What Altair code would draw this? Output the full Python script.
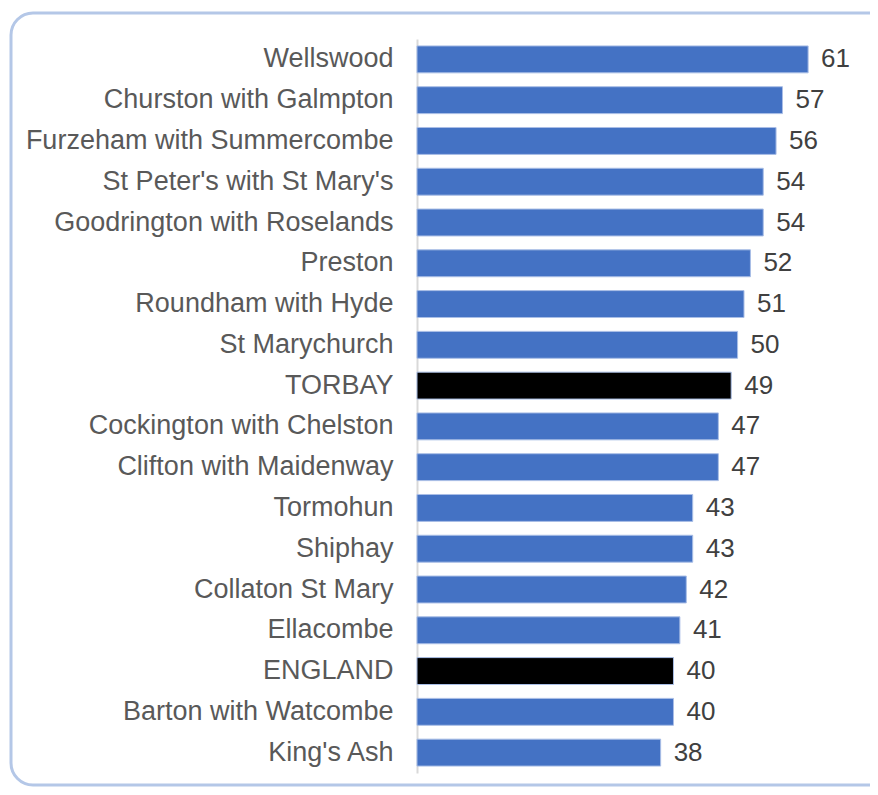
import altair as alt
import pandas as pd

areas = ["Wellswood", "Churston with Galmpton", "Furzeham with Summercombe",
         "St Peter's with St Mary's", "Goodrington with Roselands", "Preston",
         "Roundham with Hyde", "St Marychurch", "TORBAY", "Cockington with Chelston",
         "Clifton with Maidenway", "Tormohun", "Shiphay", "Collaton St Mary",
         "Ellacombe", "ENGLAND", "Barton with Watcombe", "King's Ash"]
values = [61, 57, 56, 54, 54, 52, 51, 50, 49, 47, 47, 43, 43, 42, 41, 40, 40, 38]
group = ["ward" if a not in ("TORBAY", "ENGLAND") else "total" for a in areas]

df = pd.DataFrame({"area": areas, "value": values, "group": group})

FONT = "Liberation Sans"

y = alt.Y("area:N", sort=areas, title=None,
          scale=alt.Scale(paddingInner=0.34, paddingOuter=0.17),
          axis=alt.Axis(ticks=False, labelPadding=24, labelFontSize=27,
                        labelColor="#595959", labelFont=FONT, domainColor="#D9D9D9",
                        domainWidth=2, labelLimit=500))
x = alt.X("value:Q", title=None, scale=alt.Scale(domain=[0, 68]), axis=None)

bars = alt.Chart(df).mark_bar(stroke="#A9BEE6", strokeWidth=1).encode(
    x=x, y=y,
    color=alt.Color("group:N", scale=alt.Scale(domain=["ward", "total"],
                                               range=["#4472C4", "#000000"]),
                    legend=None),
)

labels = alt.Chart(df).mark_text(align="left", baseline="middle", dx=13,
                                 fontSize=26, font=FONT, color="#404040").encode(
    x=x, y=y, text="value:Q"
)

border_df = pd.DataFrame({"k": [1]})
border = alt.Chart(border_df).mark_rect(
    fill=None, stroke="#B4C7E7", strokeWidth=3, cornerRadius=22
).encode(x=alt.value(-406), x2=alt.value(500), y=alt.value(-26), y2=alt.value(746))

chart = alt.layer(border, bars, labels).properties(
    width=436, height=734,
    background="white",
    autosize=alt.AutoSizeParams(type="none"),
    padding={"left": 409, "top": 31, "right": 17, "bottom": 14},
).configure_view(strokeWidth=0, stroke="transparent")

chart.save("out.html", embed_options={"renderer": "svg", "actions": False})
